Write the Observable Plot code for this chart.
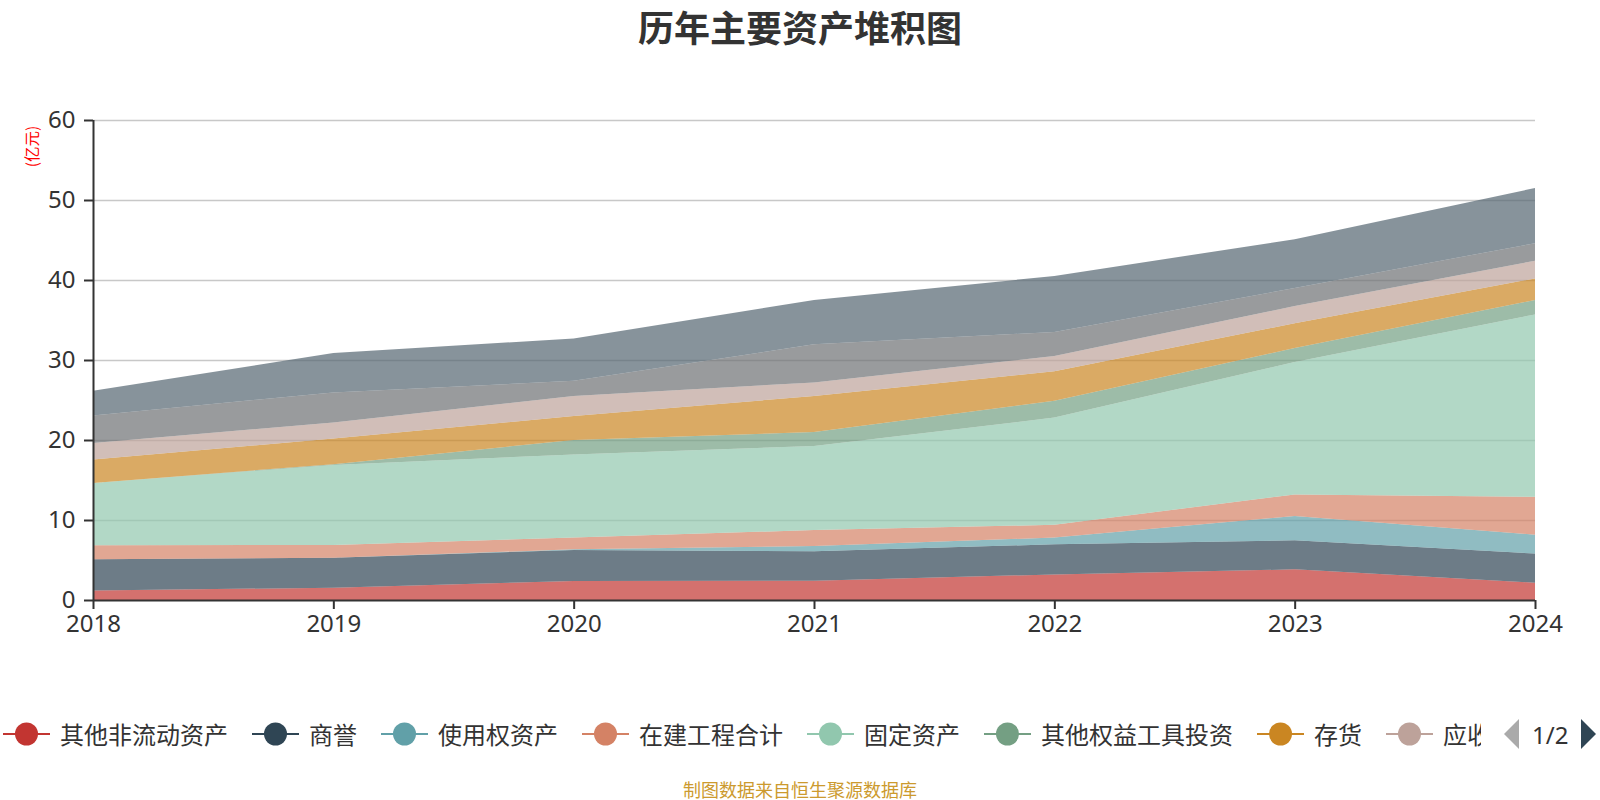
<!DOCTYPE html>
<html>
<head>
<meta charset="utf-8">
<script src="https://cdn.jsdelivr.net/npm/d3@7"></script>
<script src="https://cdn.jsdelivr.net/npm/@observablehq/plot@0.6"></script>
<style>
  html, body { margin: 0; padding: 0; background: #fff; }
  body { width: 1600px; height: 800px; position: relative; overflow: hidden;
         font-family: "Noto Sans", "Noto Sans CJK SC", sans-serif; color: #333; }
  #title { position: absolute; top: 2px; left: 800px; transform: translateX(-50%);
           font-size: 36px; font-weight: bold; white-space: nowrap; color: #333; line-height: 48px;
           font-family: "Noto Sans CJK SC", sans-serif; }
  #chart { position: absolute; top: 50px; left: 0; }
  #legend { position: absolute; top: 719px; left: 3px; height: 30px; display: flex; align-items: center; }
  .item { display: flex; align-items: center; margin-right: 24px; white-space: nowrap; }
  .item span { font-size: 24px; color: #333; margin-left: 10px; font-family: "Noto Sans CJK SC", sans-serif; line-height: 30px; }
  .item span.clip { display: inline-block; width: 38px; overflow: hidden; }
  .item.last { margin-right: 0; }
  #pager { position: absolute; top: 719px; left: 1503px; height: 30px; display: flex; align-items: center; }
  #pager span { font-size: 24px; color: #333; margin: 0 11px; }
  #footer { position: absolute; top: 776px; left: 800px; transform: translateX(-50%);
            font-size: 18px; color: #cc9a2e; white-space: nowrap; line-height: 26px; font-family: "Noto Sans CJK SC", sans-serif; }
</style>
</head>
<body>
<div id="title">历年主要资产堆积图</div>
<div id="chart"></div>
<div id="legend"></div>
<div id="pager"></div>
<div id="footer">制图数据来自恒生聚源数据库</div>
<script>
const years = [2018, 2019, 2020, 2021, 2022, 2023, 2024];
const yTicks = [0, 10, 20, 30, 40, 50, 60];
const seriesNames = ["其他非流动资产", "商誉", "使用权资产", "在建工程合计", "固定资产", "其他权益工具投资", "存货", "应收账款", "交易性金融资产", "货币资金"];
const colors = ["#c23531", "#2f4554", "#61a0a8", "#d48265", "#91c7ae", "#749f83", "#ca8622", "#bda29a", "#6e7074", "#546570"];

const otherNonCurrent = [1.2, 1.53, 2.38, 2.4, 3.2, 3.83, 2.17];
const goodwill        = [3.88, 3.75, 3.87, 3.7, 3.76, 3.63, 3.63];
const rightOfUse      = [0.0, 0.0, 0.08, 0.65, 0.84, 3.04, 2.37];
const construction    = [1.76, 1.6, 1.47, 2.0, 1.6, 2.7, 4.73];
const fixedAssets     = [7.8, 10.0, 10.4, 10.5, 13.4, 16.55, 22.8];
const equityInvest    = [0.0, 0.1, 1.8, 1.75, 2.1, 1.75, 1.8];
const inventory       = [2.92, 3.2, 3.0, 4.5, 3.7, 3.1, 2.7];
const receivables     = [2.07, 2.0, 2.5, 1.7, 1.9, 2.15, 2.2];
const tradingAssets   = [3.44, 3.76, 1.9, 4.76, 3.0, 2.25, 2.2];
const cash            = [3.1, 4.93, 5.3, 5.54, 7.0, 6.1, 6.9];

const seriesValues = [otherNonCurrent, goodwill, rightOfUse, construction, fixedAssets, equityInvest, inventory, receivables, tradingAssets, cash];
const legendCount = 8;

const data = [];
seriesNames.forEach((name, i) => {
  years.forEach((yr, j) => data.push({ series: name, year: yr, value: seriesValues[i][j] }));
});

const font = '"Noto Sans", "Noto Sans CJK SC", sans-serif';

const chart = Plot.plot({
  width: 1600,
  height: 650,
  marginLeft: 93,
  marginRight: 65,
  marginTop: 70,
  marginBottom: 100,
  style: { fontFamily: font, color: "#333", background: "transparent", overflow: "visible" },
  x: { domain: [2018, 2024] },
  y: { domain: [0, 60] },
  color: { domain: seriesNames, range: colors },
  marks: [
    Plot.ruleY(yTicks.filter(d => d > 0), { stroke: "#c8c8c8", strokeWidth: 1.5 }),
    Plot.areaY(data, { x: "year", y: "value", z: "series", fill: "series", fillOpacity: 0.7, curve: "linear" }),
    Plot.ruleY([0], { stroke: "#333", strokeWidth: 2 }),
    Plot.ruleX([2018], { stroke: "#333", strokeWidth: 2 }),
    Plot.axisX({ ticks: years, tickFormat: d3.format("d"), tickSize: 9, tickPadding: 5, fontSize: 24, stroke: "#333", strokeWidth: 2, fill: "#333", label: null }),
    Plot.axisY({ ticks: yTicks, tickSize: 9, tickPadding: 9, fontSize: 24, stroke: "#333", strokeWidth: 2, fill: "#333", label: null }),
    Plot.text(["(亿元)"], { frameAnchor: "top-left", dx: -60, dy: 26, rotate: -90, fill: "red", fontSize: 15.5, textAnchor: "middle", lineAnchor: "middle", fontFamily: '"Noto Sans CJK SC", sans-serif' })
  ]
});
document.getElementById("chart").appendChild(chart);

const legend = d3.select("#legend");
seriesNames.slice(0, legendCount).forEach((name, i) => {
  const item = legend.append("div").attr("class", i === legendCount - 1 ? "item last" : "item");
  const svg = item.append("svg").attr("width", 47).attr("height", 24);
  svg.append("line").attr("x1", 0).attr("x2", 47).attr("y1", 12).attr("y2", 12).attr("stroke", colors[i]).attr("stroke-width", 2);
  svg.append("circle").attr("cx", 23.5).attr("cy", 12).attr("r", 11.5).attr("fill", colors[i]);
  const txt = item.append("span").text(name);
  if (i === legendCount - 1) txt.attr("class", "clip");
});

const pager = d3.select("#pager");
pager.append("svg").attr("width", 18).attr("height", 32)
  .append("path").attr("d", "M16,1 L1,16 L16,31 Z").attr("fill", "#aaa");
pager.append("span").text("1/2");
pager.append("svg").attr("width", 18).attr("height", 32)
  .append("path").attr("d", "M2,1 L17,16 L2,31 Z").attr("fill", "#2f4554");
</script>
</body>
</html>
